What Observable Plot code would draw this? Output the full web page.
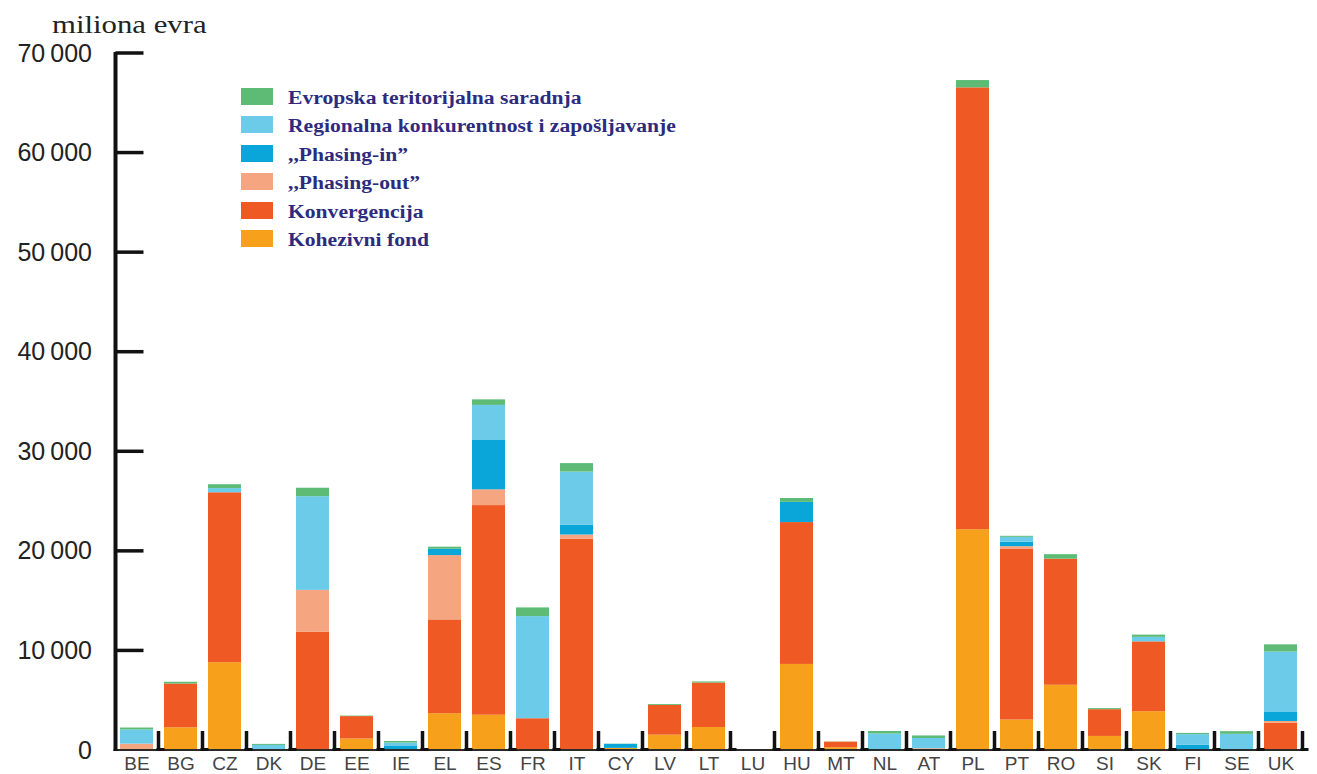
<!DOCTYPE html>
<html>
<head>
<meta charset="utf-8">
<script src="https://cdn.jsdelivr.net/npm/d3@7"></script>
<script src="https://cdn.jsdelivr.net/npm/@observablehq/plot@0.6"></script>
<style>
  html, body { margin: 0; padding: 0; background: #fff; }
  #wrap { position: relative; width: 1317px; height: 774px; overflow: hidden; }
  #wrap svg { position: absolute; left: 0; top: 0; }
  #title { position: absolute; left: 52px; top: 12px; font-family: "Liberation Serif", "Times New Roman", serif; font-size: 25px; color: #222; line-height: 25px; white-space: nowrap; z-index: 2; transform: scaleX(1.23); transform-origin: left center; }
  .lg-row { position: absolute; left: 241px; height: 17px; display: flex; align-items: center; white-space: nowrap; z-index: 2; }
  .lg-sw { width: 32px; height: 17px; flex: none; }
  .lg-tx { display: inline-block; margin-left: 15px; font-family: "Liberation Serif", "Times New Roman", serif; font-weight: bold; font-size: 18px; color: #2d2b7d; line-height: 17px; position: relative; top: 2px; transform: scaleX(1.2); transform-origin: left center; }
</style>
</head>
<body>
<div id="wrap">
  <div id="title">miliona evra</div>
</div>
<script>
// ---- data (million EUR) ----
const countries = ["BE","BG","CZ","DK","DE","EE","IE","EL","ES","FR","IT","CY","LV","LT","LU","HU","MT","NL","AT","PL","PT","RO","SI","SK","FI","SE","UK"];

// stack order, bottom to top
const seriesNames = [
  "Kohezivni fond",
  "Konvergencija",
  ",,Phasing-out\u201D",
  ",,Phasing-in\u201D",
  "Regionalna konkurentnost i zapošljavanje",
  "Evropska teritorijalna saradnja"
];
const seriesColors = ["#f7a01c", "#ef5a24", "#f5a580", "#0aa6da", "#6dcbea", "#5dbb76"];

const kohezivniFond   = [0,2283,8819,0,0,1152,0,3697,3543,0,0,213,1540,2305,0,8642,284,0,0,22176,3060,6552,1412,3899,0,0,0];
const konvergencija   = [0,4391,17064,0,11864,2252,0,9420,21054,3191,21211,0,2991,4470,0,14248,556,0,0,44377,17133,12661,2689,7013,0,0,2738];
const phasingOut      = [638,0,0,0,4215,0,0,6458,1583,0,430,0,0,0,0,0,0,0,177,0,280,0,0,0,0,0,174];
const phasingIn       = [0,0,0,0,0,0,458,635,4955,0,972,399,0,0,0,2031,0,0,0,0,448,0,0,0,545,0,965];
const regionalna      = [1425,0,419,510,9409,0,293,0,3522,10257,5353,0,0,0,50,0,0,1660,1027,0,490,0,0,449,1051,1626,6014];
const evropska        = [194,179,389,103,851,52,151,210,559,872,846,28,90,109,15,386,15,247,257,731,99,455,104,227,120,265,722];

const yTicks = [0, 10000, 20000, 30000, 40000, 50000, 60000, 70000];

// ---- long table built from the arrays ----
const seriesValues = [kohezivniFond, konvergencija, phasingOut, phasingIn, regionalna, evropska];
const rows = [];
seriesNames.forEach((s, si) => {
  countries.forEach((c, ci) => {
    const v = seriesValues[si][ci];
    if (v > 0) rows.push({country: c, series: s, value: v});
  });
});

const fmt = d => d3.format(",")(d).replace(/,/g, "\u2009");

const decorations = (index, scales, values, dims) => {
  const x = scales.x, y = scales.y;
  const g = d3.create("svg:g");
  const left = dims.marginLeft;
  const right = dims.width - dims.marginRight;
  const y0 = y(0);
  const bw = x.bandwidth ? x.bandwidth() : 33;
  const step = x.step ? x.step() : 44;
  // baseline
  g.append("line")
    .attr("x1", left).attr("x2", right + 2)
    .attr("y1", y0).attr("y2", y0)
    .attr("stroke", "#2a2a2a").attr("stroke-width", 2);
  // y axis line
  g.append("line")
    .attr("x1", left + 2).attr("x2", left + 2)
    .attr("y1", y(70000) - 1).attr("y2", y0 + 1)
    .attr("stroke", "#111").attr("stroke-width", 4);
  // y ticks pointing inward
  yTicks.filter(t => t > 0).forEach(t => {
    g.append("line")
      .attr("x1", left + 2).attr("x2", left + 30)
      .attr("y1", y(t)).attr("y2", y(t))
      .attr("stroke", "#111").attr("stroke-width", 3.5);
  });
  // category boundary ticks
  countries.forEach(c => {
    const bx = x(c) + bw + (step - bw) / 2;
    g.append("line")
      .attr("x1", bx).attr("x2", bx)
      .attr("y1", y0).attr("y2", y0 - 19)
      .attr("stroke", "#111").attr("stroke-width", 3.5);
    g.append("line")
      .attr("x1", bx - 2).attr("x2", bx + 6)
      .attr("y1", y0 - 0.5).attr("y2", y0 - 0.5)
      .attr("stroke", "#111").attr("stroke-width", 3);
  });
  return g.node();
};

const chart = Plot.plot({
  width: 1317,
  height: 774,
  marginTop: 53,
  marginBottom: 24,
  marginLeft: 113.5,
  marginRight: 14,
  style: {background: "transparent", overflow: "visible"},
  x: {domain: countries, paddingInner: 0.25, paddingOuter: 0.125, label: null},
  y: {domain: [0, 70000], label: null},
  color: {domain: seriesNames, range: seriesColors},
  marks: [
    Plot.barY(rows, {x: "country", y: "value", fill: "series", order: seriesNames}),
    Plot.axisY({ticks: yTicks, tickSize: 0, tickPadding: 22, tickFormat: fmt, fontSize: 25, fill: "#222", fontFamily: "Liberation Sans, Arial, sans-serif", label: null}),
    Plot.axisX({tickSize: 0, tickPadding: 6, fontSize: 19, fill: "#444", fontFamily: "Liberation Sans, Arial, sans-serif", label: null}),
    decorations
  ]
});

const wrap = document.getElementById("wrap");
wrap.appendChild(chart);

// legend (top entry = top of stack)
const legendOrder = seriesNames.map((s, i) => i).reverse();
legendOrder.forEach((si, k) => {
  const row = document.createElement("div");
  row.className = "lg-row";
  row.style.top = (88 + k * 28.4) + "px";
  const sw = document.createElement("div");
  sw.className = "lg-sw";
  sw.style.background = seriesColors[si];
  const tx = document.createElement("span");
  tx.className = "lg-tx";
  tx.textContent = seriesNames[si];
  row.appendChild(sw);
  row.appendChild(tx);
  wrap.appendChild(row);
});
</script>
</body>
</html>
